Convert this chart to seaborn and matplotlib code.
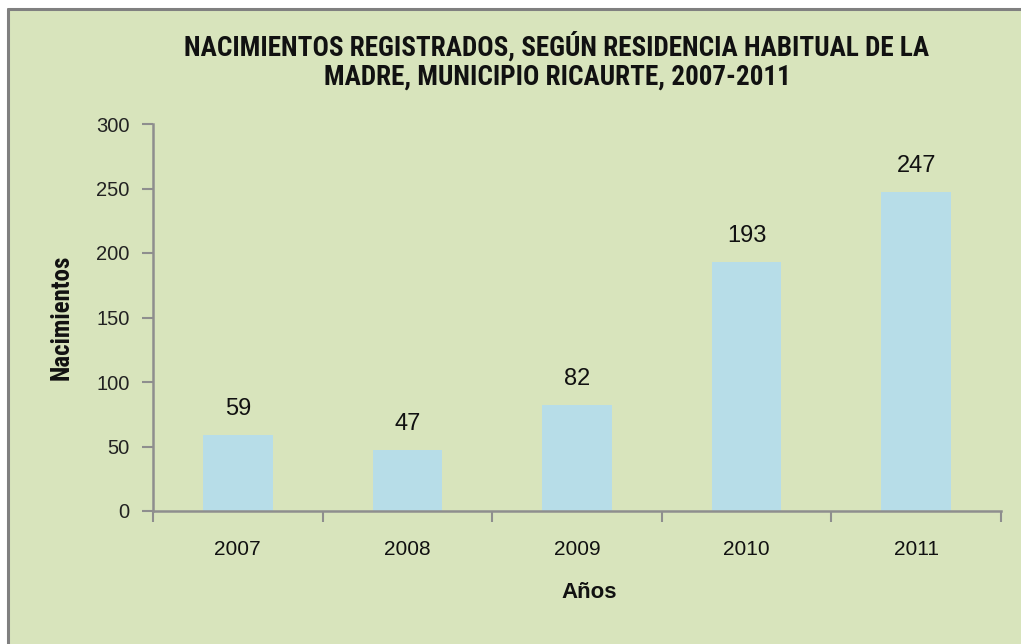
import matplotlib
matplotlib.use("Agg")
import matplotlib.pyplot as plt
from matplotlib.patches import Rectangle
from matplotlib.ticker import FixedLocator, MultipleLocator
import seaborn as sns
import pandas as pd

# Births registered by mother's usual residence, Ricaurte municipality
years = ["2007", "2008", "2009", "2010", "2011"]
births = [59, 47, 82, 193, 247]

title_text = "NACIMIENTOS REGISTRADOS, SEGÚN RESIDENCIA HABITUAL DE LA\nMADRE, MUNICIPIO RICAURTE, 2007-2011"
x_label = "Años"
y_label = "Nacimientos"

BG = "#D8E4BC"
BAR = "#B7DDE8"
AXIS = "#8E8E8E"
NARROW = ["Roboto Condensed", "Liberation Sans", "DejaVu Sans"]

sns.set_theme(style="white")
plt.rcParams["font.family"] = ["Liberation Sans", "DejaVu Sans"]

df = pd.DataFrame({"year": years, "births": births})

fig = plt.figure(figsize=(10.21, 6.44), dpi=100)
fig.patch.set_facecolor("white")
# chart area panel with a grey frame on the top and left
fig.add_artist(Rectangle((8 / 1021, 0), 1.0, 1 - 9 / 644, transform=fig.transFigure,
                         facecolor=BG, edgecolor="none", zorder=-2))
fig.add_artist(plt.Line2D([8 / 1021, 8 / 1021], [0, 1 - 9 / 644], transform=fig.transFigure,
                          color="#808080", lw=2.2, zorder=-1))
fig.add_artist(plt.Line2D([8 / 1021, 1], [1 - 9 / 644, 1 - 9 / 644], transform=fig.transFigure,
                          color="#808080", lw=2.2, zorder=-1))

ax = fig.add_axes([153 / 1021, 1 - 511 / 644, (1001 - 153) / 1021, (511 - 124) / 644])
ax.patch.set_alpha(0)

sns.barplot(data=df, x="year", y="births", color=BAR, saturation=1, width=0.41,
            linewidth=0, edgecolor="none", ax=ax, zorder=2)

ax.set_xlim(-0.5, len(years) - 0.5)
ax.set_ylim(0, 300)
ax.yaxis.set_major_locator(MultipleLocator(50))

for spine in ["top", "right"]:
    ax.spines[spine].set_visible(False)
for spine in ["left", "bottom"]:
    ax.spines[spine].set_color(AXIS)
    ax.spines[spine].set_linewidth(1.8)
    ax.spines[spine].set_zorder(3)

# category labels without ticks; tick marks between the categories
ax.tick_params(axis="x", which="major", bottom=True, length=0, pad=21, labelsize=15,
               labelcolor="#111111")
ax.xaxis.set_minor_locator(FixedLocator([i - 0.5 for i in range(len(years) + 1)]))
ax.tick_params(axis="x", which="minor", bottom=True, length=8, width=1.5, color=AXIS,
               direction="out")
ax.tick_params(axis="y", which="major", left=True, length=8, width=1.5, color=AXIS,
               direction="out", pad=9, labelsize=14.5, labelcolor="#222222")

for i, v in enumerate(births):
    ax.annotate(str(v), (i, v), xytext=(0, 11), textcoords="offset points",
                ha="center", va="bottom", fontsize=17, color="#111111")

ax.set_xlabel(x_label, fontsize=16, fontweight="bold", color="#111111")
ax.xaxis.set_label_coords((589 - 153) / (1001 - 153), -81 / (511 - 124))
ax.set_ylabel(y_label, fontsize=18, fontweight="bold", color="#111111", family=NARROW)
ax.yaxis.set_label_coords(-(153 - 62) / (1001 - 153), (511 - 317) / (511 - 124))
ax.yaxis.label.set_va("center")
ax.xaxis.label.set_va("center")

fig.text(557 / 1021, 1 - 61 / 644, title_text, ha="center", va="center",
         fontsize=19.5, fontweight="bold", linespacing=1.1, color="#111111",
         family=NARROW)

fig.savefig("out.png", dpi=100, facecolor=fig.get_facecolor())
